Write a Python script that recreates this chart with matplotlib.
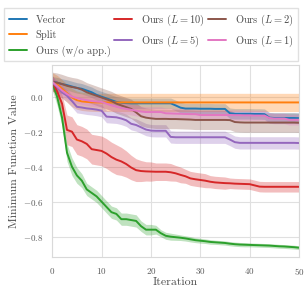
import numpy as np
import matplotlib
matplotlib.use('Agg')
import matplotlib.pyplot as plt
import seaborn as sns

sns.set_style('whitegrid')
plt.rcParams['font.family'] = 'serif'
plt.rcParams['font.serif'] = ['cmr10']
plt.rcParams['mathtext.fontset'] = 'cm'
plt.rcParams['axes.formatter.use_mathtext'] = True
plt.rcParams['axes.unicode_minus'] = True
plt.rcParams['text.color'] = '0.3'
plt.rcParams['axes.labelcolor'] = '0.3'

iters = np.arange(51)

vector = [0.085, 0.08, 0.072, 0.066, 0.058, 0.05, 0.045, 0.035, 0.025, 0.01,
          0.0, -0.01, -0.02, -0.03, -0.035, -0.037, -0.038, -0.038, -0.038, -0.038,
          -0.038, -0.038, -0.038, -0.038, -0.038, -0.05, -0.063, -0.068, -0.068, -0.068,
          -0.069, -0.069, -0.069, -0.07, -0.07, -0.07, -0.095, -0.098, -0.098, -0.098,
          -0.098, -0.099, -0.099, -0.1, -0.12, -0.122, -0.122, -0.122, -0.122, -0.122,
          -0.123]
split = [0.085, 0.07, 0.045, 0.02, -0.005, -0.02, -0.027, -0.03, -0.032, -0.033,
         -0.033, -0.033, -0.033, -0.033, -0.033, -0.033, -0.033, -0.033, -0.033, -0.033,
         -0.033, -0.033, -0.033, -0.033, -0.033, -0.033, -0.033, -0.033, -0.033, -0.033,
         -0.033, -0.033, -0.033, -0.033, -0.033, -0.033, -0.033, -0.033, -0.033, -0.033,
         -0.033, -0.033, -0.033, -0.033, -0.033, -0.033, -0.033, -0.033, -0.033, -0.033,
         -0.033]
no_app = [0.08, 0.0, -0.12, -0.32, -0.40, -0.45, -0.48, -0.53, -0.55, -0.57,
          -0.60, -0.63, -0.66, -0.67, -0.70, -0.70, -0.705, -0.71, -0.74, -0.76,
          -0.76, -0.76, -0.78, -0.795, -0.80, -0.803, -0.806, -0.81, -0.815, -0.82,
          -0.823, -0.826, -0.83, -0.832, -0.834, -0.836, -0.84, -0.843, -0.845, -0.846,
          -0.847, -0.848, -0.849, -0.85, -0.851, -0.853, -0.855, -0.856, -0.858, -0.86,
          -0.863]
l10 = [0.085, 0.03, -0.04, -0.19, -0.2, -0.245, -0.255, -0.27, -0.3, -0.305,
       -0.31, -0.325, -0.345, -0.36, -0.37, -0.385, -0.405, -0.42, -0.425, -0.427,
       -0.428, -0.429, -0.429, -0.429, -0.432, -0.438, -0.447, -0.455, -0.467, -0.472,
       -0.476, -0.48, -0.486, -0.49, -0.492, -0.494, -0.495, -0.497, -0.498, -0.499,
       -0.50, -0.507, -0.514, -0.515, -0.515, -0.515, -0.515, -0.515, -0.515, -0.515,
       -0.515]
l5 = [0.08, 0.055, 0.025, 0.005, -0.025, -0.058, -0.062, -0.067, -0.07, -0.074,
      -0.08, -0.114, -0.116, -0.118, -0.125, -0.135, -0.155, -0.162, -0.175, -0.188,
      -0.194, -0.195, -0.195, -0.195, -0.23, -0.232, -0.232, -0.232, -0.232, -0.232,
      -0.232, -0.232, -0.232, -0.232, -0.232, -0.232, -0.245, -0.26, -0.264, -0.264,
      -0.264, -0.264, -0.264, -0.264, -0.264, -0.264, -0.264, -0.264, -0.264, -0.264,
      -0.265]
l2 = [0.085, 0.08, 0.072, 0.062, 0.055, 0.05, 0.04, 0.025, 0.015, 0.005,
      -0.005, -0.015, -0.025, -0.04, -0.05, -0.06, -0.07, -0.09, -0.112, -0.12,
      -0.124, -0.127, -0.127, -0.127, -0.128, -0.128, -0.129, -0.13, -0.131, -0.133,
      -0.133, -0.133, -0.133, -0.133, -0.133, -0.133, -0.134, -0.145, -0.147, -0.148,
      -0.148, -0.148, -0.148, -0.148, -0.148, -0.148, -0.148, -0.148, -0.148, -0.148,
      -0.149]
l1 = [0.085, 0.06, 0.035, 0.015, 0.0, -0.008, -0.015, -0.02, -0.025, -0.028,
      -0.03, -0.04, -0.05, -0.057, -0.065, -0.07, -0.075, -0.08, -0.085, -0.088,
      -0.088, -0.088, -0.088, -0.095, -0.096, -0.097, -0.098, -0.099, -0.1, -0.1,
      -0.105, -0.105, -0.105, -0.105, -0.105, -0.105, -0.105, -0.106, -0.106, -0.107,
      -0.107, -0.108, -0.108, -0.108, -0.122, -0.125, -0.125, -0.125, -0.132, -0.132,
      -0.132]

# half widths of the shaded bands
l10_err = [0.04, 0.04, 0.05, 0.085, 0.085, 0.085, 0.085, 0.085, 0.085, 0.085,
           0.085, 0.085, 0.085, 0.085, 0.08, 0.075, 0.07, 0.065, 0.06, 0.055,
           0.055, 0.05, 0.05, 0.05, 0.05, 0.045, 0.045, 0.04, 0.04, 0.04,
           0.04, 0.04, 0.035, 0.035, 0.035, 0.035, 0.03, 0.03, 0.03, 0.03,
           0.03, 0.03, 0.03, 0.03, 0.03, 0.03, 0.03, 0.03, 0.03, 0.03,
           0.03]
no_app_err = [0.04, 0.05, 0.05, 0.05, 0.05, 0.045, 0.04, 0.035, 0.035, 0.035,
              0.035, 0.035, 0.035, 0.035, 0.035, 0.035, 0.035, 0.035, 0.03, 0.03,
              0.03, 0.025, 0.02, 0.02, 0.02, 0.018, 0.016, 0.015, 0.015, 0.014,
              0.014, 0.013, 0.013, 0.012, 0.012, 0.012, 0.012, 0.012, 0.012, 0.012,
              0.011, 0.011, 0.011, 0.011, 0.011, 0.011, 0.011, 0.011, 0.011, 0.011,
              0.011]
vector_err = 0.03
split_err = 0.052
l5_err = 0.035
l2_err = 0.055
l1_err = 0.03

series = [
    ('Vector', vector, vector_err, 'tab:blue'),
    ('Split', split, split_err, 'tab:orange'),
    ('Ours (w/o app.)', no_app, no_app_err, 'tab:green'),
    ('Ours ($L=10$)', l10, l10_err, 'tab:red'),
    ('Ours ($L=5$)', l5, l5_err, 'tab:purple'),
    ('Ours ($L=2$)', l2, l2_err, 'tab:brown'),
    ('Ours ($L=1$)', l1, l1_err, 'tab:pink'),
]

fig = plt.figure(figsize=(3.07, 2.87), dpi=100)
ax = fig.add_axes([0.17, 0.104, 0.804, 0.669])

handles = []
for name, mean, err, color in series:
    mean = np.array(mean)
    err = np.array(err)
    h, = ax.plot(iters, mean, color=color, lw=1.4, label=name)
    ax.fill_between(iters, mean - err, mean + err, color=color, alpha=0.3, lw=0)
    handles.append(h)

ax.set_xlim(0, 50)
ax.set_ylim(-0.917, 0.18)
ax.set_xticks([0, 10, 20, 30, 40, 50])
ax.set_yticks([0.0, -0.2, -0.4, -0.6, -0.8])
ax.tick_params(labelsize=6.5, pad=3, colors='0.35')
ax.set_xlabel('Iteration', fontsize=8.5, labelpad=0)
ax.set_ylabel('Minimum Function Value', fontsize=8.5, labelpad=3)
for s in ax.spines.values():
    s.set_color('0.85')
ax.grid(color='0.88', lw=0.8)

fig.legend(handles=handles, loc='upper center', bbox_to_anchor=(0.4925, 0.99),
           ncol=3, fontsize=7.5, frameon=True, handlelength=1.7, columnspacing=0.34,
           handletextpad=0.87, labelspacing=0.5, borderpad=0.45, fancybox=False,
           edgecolor='0.85')

fig.savefig('out.png', dpi=100)
